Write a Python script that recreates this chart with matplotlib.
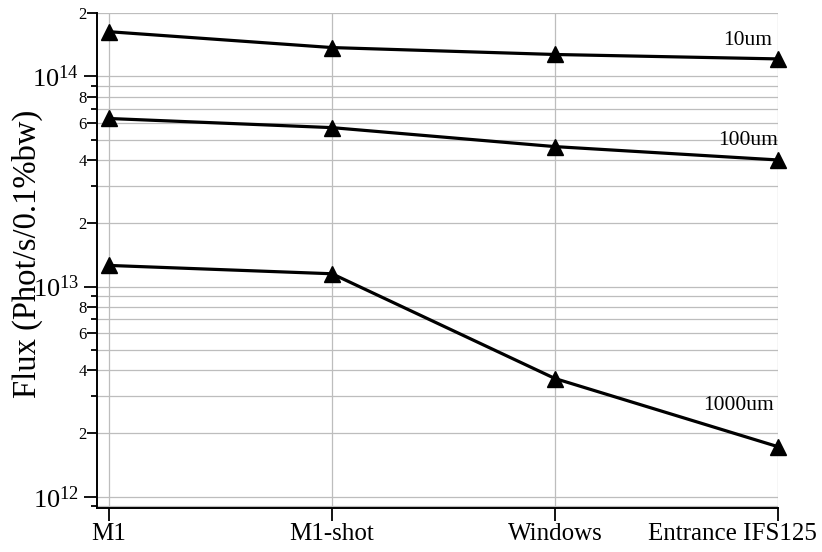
import matplotlib
matplotlib.use('Agg')
import matplotlib.pyplot as plt
import matplotlib.transforms as mtransforms
from matplotlib.ticker import FixedLocator, FuncFormatter
import numpy as np

plt.rcParams['font.family'] = ['Liberation Serif', 'DejaVu Serif']
plt.rcParams['mathtext.fontset'] = 'custom'
plt.rcParams['mathtext.rm'] = 'Liberation Serif'
plt.rcParams['mathtext.it'] = 'Liberation Serif:italic'

# data
stages = ['M1', 'M1-shot', 'Windows', 'Entrance IFS125']
series_names = ['10um', '100um', '1000um']
flux_10um = [1.63e14, 1.37e14, 1.27e14, 1.21e14]
flux_100um = [6.3e13, 5.7e13, 4.63e13, 4.0e13]
flux_1000um = [1.26e13, 1.15e13, 3.65e12, 1.73e12]

# label offsets (points) from the last point of each line
label_offsets = {'10um': (-4.3, 13), '100um': (0, 13.7), '1000um': (-3, 30)}

fig = plt.figure(figsize=(8.22, 5.52), dpi=100)
ax = fig.add_axes([0.118, 0.0797, 0.8285, 0.8967])

x = np.arange(len(stages))
for name, vals in zip(series_names, [flux_10um, flux_100um, flux_1000um]):
    ax.plot(x, vals, color='black', lw=2.3, marker='^', ms=12,
            clip_on=False, zorder=3)
    ax.annotate(name, xy=(x[-1], vals[-1]), xytext=label_offsets[name],
                textcoords='offset points', ha='right', va='center',
                fontsize=15.5)

ax.set_yscale('log')
ax.set_ylim(8.84e11, 2e14)
ax.set_xlim(-0.054, 3)

decades = [1e11, 1e12, 1e13, 1e14]
ax.yaxis.set_major_locator(FixedLocator(decades))
ax.yaxis.set_minor_locator(FixedLocator([m * d for d in decades for m in range(2, 10)]))


def minor_fmt(v, pos):
    m = int(round(v / 10 ** np.floor(np.log10(v) + 1e-9)))
    return str(m) if m % 2 == 0 else ''


ax.yaxis.set_major_formatter(FuncFormatter(lambda v, p: r'$10^{%d}$' % round(np.log10(v))))
ax.yaxis.set_minor_formatter(FuncFormatter(minor_fmt))
ax.tick_params(axis='y', which='major', length=9.4, width=1.3, pad=3.6, labelsize=19)
ax.tick_params(axis='y', which='minor', length=7, width=1.3, pad=0.5, labelsize=12)

ax.set_xticks(x)
ax.set_xticklabels(stages, fontsize=18)
ax.tick_params(axis='x', length=9.4, width=1.3, pad=1.5)

ax.grid(True, which='both', color='#bdbdbd', lw=0.9)
ax.set_axisbelow(True)
for s in ['top', 'right']:
    ax.spines[s].set_visible(False)
for s in ['left', 'bottom']:
    ax.spines[s].set_linewidth(1.4)

ax.set_ylabel('Flux (Phot/s/0.1%bw)', fontsize=23.5)
ax.yaxis.set_label_coords(-0.08, 0.514)

fig.canvas.draw()
# shorter ticks for the unlabeled minor positions
for tick, lab in zip(ax.yaxis.get_minor_ticks(), ax.yaxis.get_minorticklabels()):
    if lab.get_text() == '':
        tick.tick1line.set_markersize(4.3)
# last x label is pulled left to stay inside the figure
last = ax.get_xticklabels()[-1]
last.set_transform(last.get_transform() +
                   mtransforms.ScaledTranslation(-0.46, 0, fig.dpi_scale_trans))

fig.savefig('out.png', dpi=100)
